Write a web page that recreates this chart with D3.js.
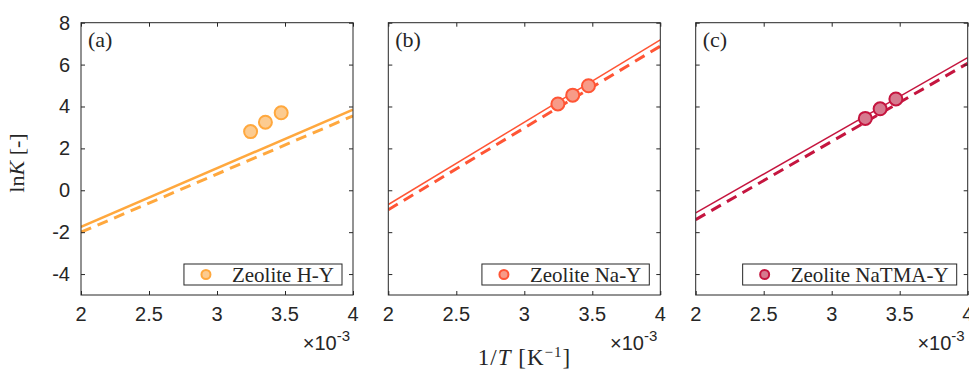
<!DOCTYPE html>
<html>
<head>
<meta charset="utf-8">
<script src="https://cdn.jsdelivr.net/npm/d3@7"></script>
<style>
  body { margin: 0; background: #fff; }
  svg text { fill: #262626; }
  .tick-label { font-family: "Liberation Sans", Arial, sans-serif; font-size: 20px; }
  .serif { font-family: "Liberation Serif", "DejaVu Serif", serif; }
</style>
</head>
<body>
<svg id="chart" width="969" height="370"></svg>
<script>
// 1/T values (x 1e-3) of the measured points
var invT = [3.247, 3.356, 3.472];
var panelNames = ["(a)", "(b)", "(c)"];
var legendNames = ["Zeolite H-Y", "Zeolite Na-Y", "Zeolite NaTMA-Y"];
var lnK = [
    [2.80, 3.25, 3.70],
    [4.12, 4.54, 4.99],
    [3.43, 3.89, 4.36]
];
// fitted lines, ln K at 1/T = 2e-3 and 4e-3
var fitX = [2, 4];
var solidFit = [
    [-1.75, 3.85],
    [-0.68, 7.18],
    [-1.08, 6.33]
];
var dashedFit = [
    [-2.00, 3.55],
    [-0.93, 6.88],
    [-1.40, 6.06]
];
var xTicks = [2, 2.5, 3, 3.5, 4];
var yTicks = [-4, -2, 0, 2, 4, 6, 8];
var lineColors = ["#ffa83e", "#ff5535", "#c5153f"];
var fillColors = ["#fccb90", "#f79b88", "#d67a8f"];
var solidWidths = [2.6, 1.5, 1.5];

var svg = d3.select("#chart");
var panelLeft = [81, 388.3, 695.7];
var panelW = 272, plotTop = 22.7, plotBottom = 295;

var y = d3.scaleLinear().domain([-5, 8]).range([plotBottom, plotTop]);

panelNames.forEach(function (name, i) {
    var x = d3.scaleLinear().domain([2, 4]).range([panelLeft[i], panelLeft[i] + panelW]);
    var g = svg.append("g");

    // clip to the axes box
    var clipId = "clip" + i;
    svg.append("clipPath").attr("id", clipId).append("rect")
        .attr("x", x(2)).attr("y", plotTop).attr("width", panelW).attr("height", plotBottom - plotTop);

    var plot = g.append("g").attr("clip-path", "url(#" + clipId + ")");

    var line = d3.line().x(function (d) { return x(d[0]); }).y(function (d) { return y(d[1]); });

    plot.append("path")
        .datum(fitX.map(function (v, k) { return [v, solidFit[i][k]]; }))
        .attr("d", line).attr("fill", "none")
        .attr("stroke", lineColors[i]).attr("stroke-width", solidWidths[i]);

    plot.append("path")
        .datum(fitX.map(function (v, k) { return [v, dashedFit[i][k]]; }))
        .attr("d", line).attr("fill", "none")
        .attr("stroke", lineColors[i]).attr("stroke-width", 3)
        .attr("stroke-dasharray", "11,7");

    plot.selectAll("circle.pt")
        .data(invT.map(function (v, k) { return [v, lnK[i][k]]; }))
        .enter().append("circle")
        .attr("class", "pt")
        .attr("cx", function (d) { return x(d[0]); })
        .attr("cy", function (d) { return y(d[1]); })
        .attr("r", 6.5)
        .attr("fill", fillColors[i])
        .attr("stroke", lineColors[i]).attr("stroke-width", 2);

    // axes box with inward ticks on all sides
    var xb = d3.axisBottom(x).tickValues(xTicks).tickSize(-4).tickFormat("");
    var xt = d3.axisTop(x).tickValues(xTicks).tickSize(-4).tickFormat("");
    var yl = d3.axisLeft(y).tickValues(yTicks).tickSize(-4).tickFormat("");
    var yr = d3.axisRight(y).tickValues(yTicks).tickSize(-4).tickFormat("");
    [[xb, "translate(0," + plotBottom + ")"], [xt, "translate(0," + plotTop + ")"],
     [yl, "translate(" + x(2) + ",0)"], [yr, "translate(" + x(4) + ",0)"]].forEach(function (a) {
        var ag = g.append("g").attr("transform", a[1]).call(a[0]);
        ag.selectAll("line").attr("stroke", "#262626");
        ag.select(".domain").remove();
    });
    g.append("rect")
        .attr("x", x(2)).attr("y", plotTop).attr("width", panelW).attr("height", plotBottom - plotTop)
        .attr("fill", "none").attr("stroke", "#262626").attr("stroke-width", 1);

    // tick labels
    g.selectAll("text.xt").data(xTicks).enter().append("text")
        .attr("class", "tick-label")
        .attr("x", function (d) { return x(d); }).attr("y", 321)
        .attr("text-anchor", "middle")
        .text(function (d) { return d; });
    if (i === 0) {
        g.selectAll("text.yt").data(yTicks).enter().append("text")
            .attr("class", "tick-label")
            .attr("x", x(2) - 11).attr("y", function (d) { return y(d) + 7; })
            .attr("text-anchor", "end")
            .text(function (d) { return d; });
    }

    // exponent
    var ex = g.append("text").attr("class", "tick-label")
        .attr("x", x(4) - 3).attr("y", 350).attr("text-anchor", "end");
    ex.append("tspan").text("\u00d710");
    ex.append("tspan").attr("dy", -9).style("font-size", "15px").text("-3");

    // panel label
    g.append("text").attr("class", "serif")
        .attr("x", x(2) + 7).attr("y", 47)
        .style("font-size", "22px").text(name);

    // legend
    var lg = g.append("g");
    var lt = lg.append("text").attr("class", "serif")
        .style("font-size", "21px").text(legendNames[i]);
    var tw = lt.node().getComputedTextLength();
    var boxR = x(4) - 11, boxW = tw + 56, boxT = 264, boxH = 21;
    lg.insert("rect", "text")
        .attr("x", boxR - boxW).attr("y", boxT).attr("width", boxW).attr("height", boxH)
        .attr("fill", "#fff").attr("stroke", "#262626").attr("stroke-width", 1);
    lg.append("circle")
        .attr("cx", boxR - boxW + 22).attr("cy", boxT + boxH / 2).attr("r", 4.5)
        .attr("fill", fillColors[i]).attr("stroke", lineColors[i]).attr("stroke-width", 2);
    lt.attr("x", boxR - 8 - tw).attr("y", boxT + 18);
});

// axis titles
var yLab = svg.append("text").attr("class", "serif")
    .attr("transform", "translate(24,163) rotate(-90)")
    .attr("text-anchor", "middle").style("font-size", "22px");
yLab.append("tspan").text("ln");
yLab.append("tspan").style("font-style", "italic").text("K");
yLab.append("tspan").text(" [-]");

var xLab = svg.append("text").attr("class", "serif")
    .attr("x", 524.5).attr("y", 365)
    .attr("text-anchor", "middle").style("font-size", "23px")
    .style("letter-spacing", "1px");
xLab.append("tspan").text("1/");
xLab.append("tspan").style("font-style", "italic").text("T");
xLab.append("tspan").text(" [K");
xLab.append("tspan").attr("dy", -8).style("font-size", "15px").text("\u22121");
xLab.append("tspan").attr("dy", 8).text("]");
</script>
</body>
</html>
